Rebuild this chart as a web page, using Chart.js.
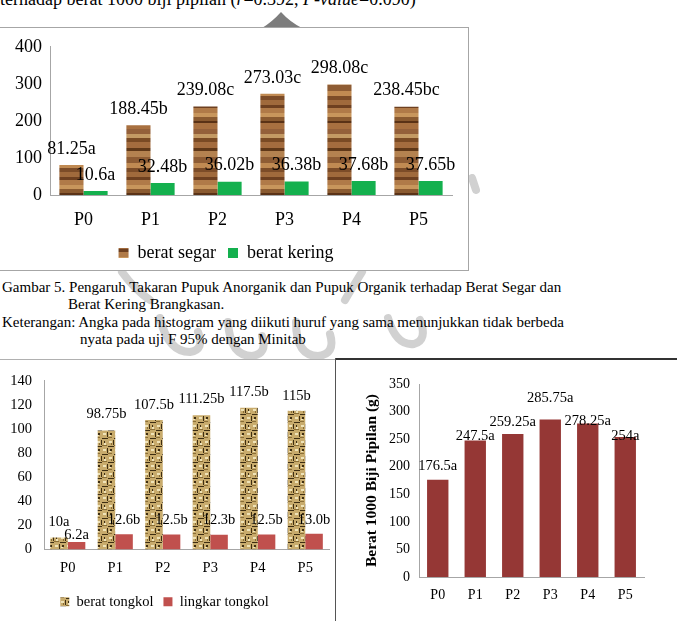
<!DOCTYPE html>
<html lang="id">
<head>
  <meta charset="UTF-8">
  <title>Berat segar, berat tongkol, berat 1000 biji</title>
  <script src="https://cdn.jsdelivr.net/npm/chart.js"></script>
  <style>
    html, body { margin: 0; padding: 0; background: #fff; }
    body { width: 677px; height: 621px; position: relative; overflow: hidden;
           font-family: "Liberation Serif", "Times New Roman", serif; color: #000; }
    .abs { position: absolute; }
    #topline { left: 0; top: -10px; font-size: 18px; line-height: 18px; white-space: nowrap; }
    #box1 { left: -1px; top: 27px; width: 468px; height: 242px; border: 1px solid #a6a6a6; background: #fff; }
    .cap { left: 2px; font-size: 15px; line-height: 17px; white-space: nowrap; }
    #lineL { left: 0; top: 359px; width: 336px; height: 1px; background: #b0b0b0; }
    #lineR { left: 335px; top: 358px; width: 342px; height: 2px; background: #333; }
    #lineV { left: 335px; top: 358px; width: 1px; height: 263px; background: #555; }
    canvas { position: absolute; }
    #wm { left: 0; top: 0; }
  </style>
</head>
<body>

  <!-- faint logo watermark, mostly hidden behind the first chart box -->
  <svg id="wm" class="abs" width="677" height="621">
    <path d="M262 28 Q272 22 281 12 Q290 22 302 28 Z" fill="#7d7d7d"/>
    <g fill="none" stroke="#9a9a9a" stroke-width="8" opacity="0.45" stroke-linecap="round">
      <path d="M122 272 Q135 290 150 300"/>
      <path d="M362 272 Q352 288 345 300"/>
      <path d="M160 318 Q168 352 190 352 Q205 350 198 332"/>
      <path d="M228 322 Q230 356 252 356 Q268 354 262 336"/>
      <path d="M296 322 Q296 356 318 356 Q336 354 330 334"/>
      <path d="M388 318 Q396 346 414 344 Q428 340 420 320"/>
      <path d="M472 178 L476 190"/>
    </g>
  </svg>

  <div id="topline" class="abs">terhadap berat 1000 biji pipilan (<i>r</i>=0.392, <i>P-value</i>=0.090)</div>

  <div id="box1" class="abs"></div>
  <canvas id="segar" width="468" height="248" style="left:0;top:28px"></canvas>

  <div class="abs cap" style="top:279px">Gambar 5. Pengaruh Takaran Pupuk Anorganik dan Pupuk Organik terhadap Berat Segar dan</div>
  <div class="abs cap" style="top:296px;left:68px">Berat Kering Brangkasan.</div>
  <div class="abs cap" style="top:314px">Keterangan: Angka pada histogram yang diikuti huruf yang sama menunjukkan tidak berbeda</div>
  <div class="abs cap" style="top:331px;left:80px">nyata pada uji F 95% dengan Minitab</div>

  <div id="lineL" class="abs"></div>
  <div id="lineR" class="abs"></div>
  <div id="lineV" class="abs"></div>

  <canvas id="tongkol" width="335" height="261" style="left:0;top:360px"></canvas>
  <canvas id="pipilan" width="341" height="261" style="left:336px;top:360px"></canvas>

  <script>
    // ---- data ----
    const perlakuan = ["P0", "P1", "P2", "P3", "P4", "P5"];

    const beratSegar = [81.25, 188.45, 239.08, 273.03, 298.08, 238.45];
    const hurufSegar = ["a", "b", "c", "c", "c", "bc"];
    const beratKering = [10.6, 32.48, 36.02, 36.38, 37.68, 37.65];
    const hurufKering = ["a", "b", "b", "b", "b", "b"];

    const beratTongkol = [10, 98.75, 107.5, 111.25, 117.5, 115];
    const hurufTongkol = ["a", "b", "b", "b", "b", "b"];
    const lingkarTongkol = [6.2, 12.6, 12.5, 12.3, 12.5, 13.0];
    const hurufLingkar = ["a", "b", "b", "b", "b", "b"];

    const berat1000 = [176.5, 247.5, 259.25, 285.75, 278.25, 254];
    const huruf1000 = ["a", "a", "a", "a", "a", "a"];

    const ticks1 = [0, 100, 200, 300, 400];
    const ticks2 = [0, 20, 40, 60, 80, 100, 120, 140];
    const ticks3 = [0, 50, 100, 150, 200, 250, 300, 350];

    const serif = "'Liberation Serif', 'Times New Roman', serif";
    Chart.defaults.font.family = serif;
    Chart.defaults.color = "#000";
    Chart.defaults.animation = false;

    // ---- textures for the patterned bars ----
    function woodPattern() {
      const c = document.createElement("canvas");
      c.width = 8; c.height = 72;
      const g = c.getContext("2d");
      const bands = [
        ["#a06a3c", 5], ["#6e4020", 3], ["#b07a48", 5], ["#c8965c", 4], ["#8a5a30", 4],
        ["#5a3216", 2], ["#a87040", 6], ["#94603a", 5], ["#c49a64", 4], ["#7a4a24", 4],
        ["#a46c3e", 6], ["#603818", 3], ["#b48250", 6], ["#8e5c34", 6], ["#c08a52", 5], ["#7c4c28", 4]
      ];
      let y = 0;
      bands.forEach(([col, h]) => { g.fillStyle = col; g.fillRect(0, y, 8, h); y += h; });
      return g.createPattern(c, "repeat");
    }
    function wovenPattern() {
      const c = document.createElement("canvas");
      c.width = 12; c.height = 16;
      const g = c.getContext("2d");
      g.fillStyle = "#c8ab6c"; g.fillRect(0, 0, 12, 16);
      g.fillStyle = "#efe3b8";
      g.fillRect(1, 1, 3, 2); g.fillRect(7, 9, 3, 2); g.fillRect(8, 3, 2, 2); g.fillRect(1, 11, 2, 1);
      g.fillStyle = "#3e2e12";
      g.fillRect(0, 6, 6, 1); g.fillRect(6, 14, 6, 1); g.fillRect(5, 0, 1, 5);
      g.fillRect(11, 8, 1, 5); g.fillRect(2, 9, 2, 2); g.fillRect(8, 1, 1, 2);
      g.fillStyle = "#8a6e36";
      g.fillRect(0, 13, 4, 1); g.fillRect(6, 5, 5, 1); g.fillRect(3, 3, 1, 2);
      return g.createPattern(c, "repeat");
    }

    // value labels above each bar
    const barLabels = {
      id: "barLabels",
      afterDatasetsDraw(chart, args, opts) {
        const ctx = chart.ctx;
        ctx.save();
        ctx.font = opts.size + "px " + serif;
        ctx.fillStyle = "#000";
        ctx.textAlign = "center";
        ctx.textBaseline = "middle";
        chart.data.datasets.forEach((ds, i) => {
          const meta = chart.getDatasetMeta(i);
          meta.data.forEach((bar, j) => {
            const v = ds.data[j];
            const txt = (ds.decimals ? v.toFixed(ds.decimals) : String(v)) + ds.huruf[j];
            const dy = opts.dy && opts.dy[i] ? opts.dy[i][j] : opts.gap;
            ctx.fillText(txt, bar.x, bar.y - dy);
          });
        });
        ctx.restore();
      }
    };

    function fixedTicks(list) {
      return function (scale) { scale.ticks = list.map(v => ({ value: v })); };
    }

    // ---- Gambar 5: berat segar & berat kering ----
    new Chart("segar", {
      type: "bar",
      data: {
        labels: perlakuan,
        datasets: [
          { label: "berat segar", data: beratSegar, huruf: hurufSegar, backgroundColor: woodPattern() },
          { label: "berat kering", data: beratKering, huruf: hurufKering, backgroundColor: "#14b04e" }
        ]
      },
      options: {
        responsive: false,
        categoryPercentage: 0.72,
        barPercentage: 1,
        layout: { padding: { top: 18, right: 16, bottom: 4, left: 0 } },
        plugins: {
          legend: {
            position: "bottom",
            labels: { boxWidth: 10, boxHeight: 10, padding: 12, font: { size: 18 } }
          },
          tooltip: { enabled: false },
          barLabels: { size: 18, gap: 16 }
        },
        scales: {
          x: {
            grid: { display: false, drawTicks: false },
            border: { color: "#a6a6a6" },
            ticks: { font: { size: 18 }, padding: 14 },
            afterFit(s) { s.height = 37; }
          },
          y: {
            min: 0, max: 400,
            afterBuildTicks: fixedTicks(ticks1),
            grid: { display: false, drawTicks: false },
            border: { color: "#a6a6a6" },
            ticks: { font: { size: 18 }, padding: 8 },
            afterFit(s) { s.width = 50; }
          }
        }
      },
      plugins: [barLabels]
    });

    // ---- berat tongkol & lingkar tongkol ----
    new Chart("tongkol", {
      type: "bar",
      data: {
        labels: perlakuan,
        datasets: [
          { label: "berat tongkol", data: beratTongkol, huruf: hurufTongkol, backgroundColor: wovenPattern() },
          { label: "lingkar tongkol", data: lingkarTongkol, huruf: hurufLingkar, decimals: 1, backgroundColor: "#c0504d" }
        ]
      },
      options: {
        responsive: false,
        categoryPercentage: 0.74,
        barPercentage: 1,
        layout: { padding: { top: 16, right: 6, bottom: 2, left: 0 } },
        plugins: {
          legend: {
            position: "bottom",
            labels: { boxWidth: 9, boxHeight: 9, padding: 10, font: { size: 14.5 } }
          },
          tooltip: { enabled: false },
          barLabels: {
            size: 14.5, gap: 15,
            dy: [[15, 16, 15, 16, 16, 15], [7, 14, 14, 14, 14, 14]]
          }
        },
        scales: {
          x: {
            grid: { display: false, drawTicks: false },
            border: { color: "#a6a6a6" },
            ticks: { font: { size: 14.5 }, padding: 10 },
            afterFit(s) { s.height = 35; }
          },
          y: {
            min: 0, max: 140,
            afterBuildTicks: fixedTicks(ticks2),
            grid: { display: false, drawTicks: false },
            border: { color: "#a6a6a6" },
            ticks: { font: { size: 14.5 }, padding: 12 },
            afterFit(s) { s.width = 44; }
          }
        }
      },
      plugins: [barLabels]
    });

    // ---- berat 1000 biji pipilan ----
    new Chart("pipilan", {
      type: "bar",
      data: {
        labels: perlakuan,
        datasets: [
          { label: "berat 1000 biji", data: berat1000, huruf: huruf1000, backgroundColor: "#953735" }
        ]
      },
      options: {
        responsive: false,
        categoryPercentage: 0.57,
        barPercentage: 1,
        layout: { padding: { top: 24, right: 33, bottom: 0, left: 0 } },
        plugins: {
          legend: { display: false },
          tooltip: { enabled: false },
          barLabels: { size: 14.5, dy: [[13, 4, 12, 21, 2, 1]] }
        },
        scales: {
          x: {
            grid: { display: false, drawTicks: false },
            border: { color: "#a6a6a6" },
            ticks: { font: { size: 14 }, padding: 10 },
            afterFit(s) { s.height = 44; }
          },
          y: {
            min: 0, max: 350,
            afterBuildTicks: fixedTicks(ticks3),
            grid: { display: false, drawTicks: false },
            border: { color: "#a6a6a6" },
            ticks: { font: { size: 14 }, padding: 9 },
            title: {
              display: true, text: "Berat 1000 Biji Pipilan (g)",
              font: { size: 15.5, weight: "bold" }, padding: { top: 27, bottom: 0 }
            },
            afterFit(s) { s.width = 83; }
          }
        }
      },
      plugins: [barLabels]
    });
  </script>
</body>
</html>
